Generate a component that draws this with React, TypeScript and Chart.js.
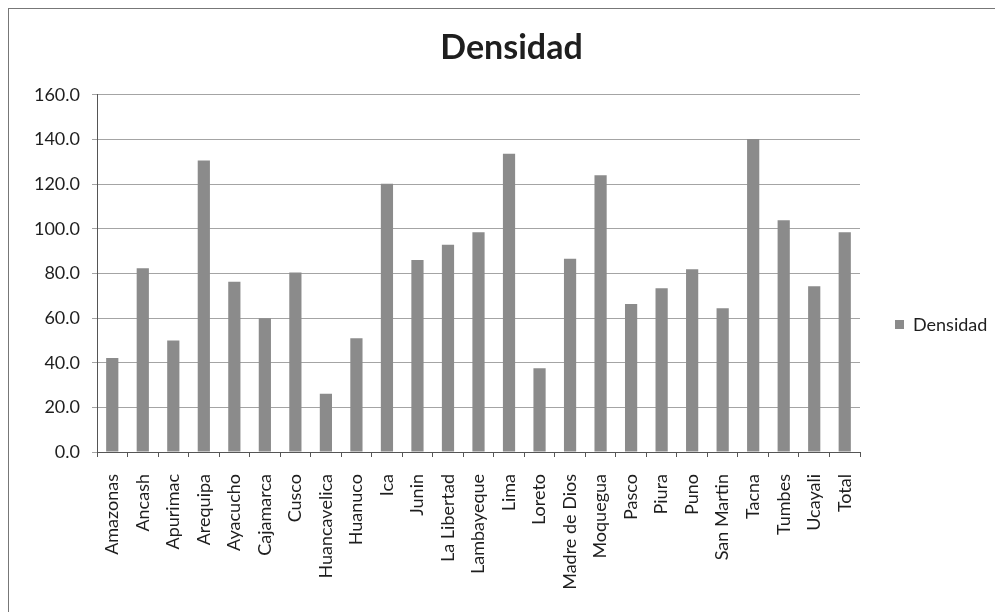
import React, { useEffect, useRef } from "react";
import { Chart, registerables } from "chart.js";

Chart.register(...registerables);

const categories = [
  "Amazonas", "Ancash", "Apurimac", "Arequipa", "Ayacucho", "Cajamarca", "Cusco",
  "Huancavelica", "Huanuco", "Ica", "Junin", "La Libertad", "Lambayeque", "Lima",
  "Loreto", "Madre de Dios", "Moquegua", "Pasco", "Piura", "Puno", "San Martin",
  "Tacna", "Tumbes", "Ucayali", "Total",
];
const densidad = [
  42.1, 82.3, 49.9, 130.6, 76.3, 59.9, 80.4, 26.1, 51.0, 120.2, 86.0, 92.8, 98.4,
  133.6, 37.5, 86.6, 124.0, 66.3, 73.4, 81.9, 64.4, 140.2, 103.8, 74.3, 98.4,
];
const seriesName = "Densidad";
const yTicks = { min: 0, max: 160, step: 20 };

const FONT = "Lato, 'Open Sans', sans-serif";
const BAR = "#8b8b8b";
const GRID = "#a4a4a4";
const TEXT = "#1e1e1e";

const legendPlugin = {
  id: "sideLegend",
  afterDraw(chart: any) {
    const ctx = chart.ctx;
    const ds = chart.data.datasets[0];
    ctx.save();
    ctx.fillStyle = BAR;
    ctx.fillRect(886, 311, 9, 9);
    ctx.fillStyle = TEXT;
    ctx.font = `18px ${FONT}`;
    ctx.textBaseline = "middle";
    ctx.textAlign = "left";
    ctx.fillText(ds.label, 904, 316);
    ctx.restore();
  },
};

export default function App() {
  const ref = useRef<HTMLCanvasElement | null>(null);
  useEffect(() => {
    document.body.style.overflow = "hidden";
    const chart = new Chart(ref.current as HTMLCanvasElement, {
      type: "bar",
      data: {
        labels: categories,
        datasets: [
          {
            label: seriesName,
            data: densidad,
            backgroundColor: BAR,
            borderWidth: 0,
            categoryPercentage: 1,
            barPercentage: 0.4,
          },
        ],
      },
      options: {
        animation: false,
        responsive: false,
        maintainAspectRatio: false,
        layout: { padding: { left: 11, right: 0, top: 0, bottom: 0 } },
        plugins: {
          legend: { display: false },
          tooltip: { enabled: false },
          title: {
            display: true,
            text: seriesName,
            color: TEXT,
            font: { family: FONT, size: 34, weight: "bold" },
            padding: { top: 19, bottom: 26 },
          },
        },
        scales: {
          x: {
            offset: true,
            grid: {
              display: true,
              drawOnChartArea: false,
              drawTicks: true,
              tickLength: 5,
              color: "#555",
              offset: true,
            },
            border: { display: true, color: "#555" },
            ticks: {
              color: TEXT,
              font: { family: FONT, size: 18 },
              maxRotation: 90,
              minRotation: 90,
              autoSkip: false,
              padding: 17,
            },
            afterFit(scale: any) {
              scale.height = 160;
            },
          },
          y: {
            min: yTicks.min,
            max: yTicks.max,
            grid: {
              color: GRID,
              tickLength: 5,
              drawTicks: true,
            },
            border: { display: true, color: "#555" },
            ticks: {
              stepSize: yTicks.step,
              color: TEXT,
              font: { family: FONT, size: 18 },
              padding: 12,
              callback: (v: any) => Number(v).toFixed(1),
            },
            afterFit(scale: any) {
              scale.width = 77;
            },
          },
          legendSpace: {
            type: "linear",
            position: "right",
            display: true,
            grid: { display: false, drawTicks: false },
            border: { display: false },
            ticks: { display: false },
            afterFit(scale: any) {
              scale.width = 143;
            },
          },
        },
      },
      plugins: [legendPlugin],
    });
    return () => chart.destroy();
  }, []);

  return (
    <div
      style={{
        position: "relative",
        width: 994,
        height: 603,
        borderTop: "1px solid #777",
        borderLeft: "1px solid #777",
        background: "#fff",
      }}
    >
      <canvas ref={ref} width={994} height={603} style={{ display: "block" }} />
    </div>
  );
}
